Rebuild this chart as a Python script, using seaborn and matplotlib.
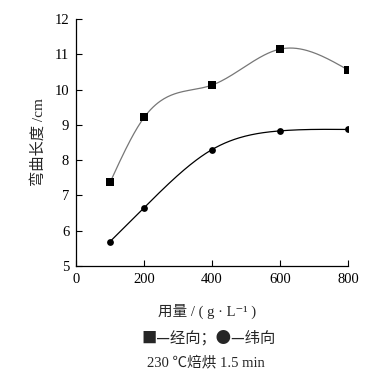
import numpy as np
import pandas as pd
import matplotlib
matplotlib.use('Agg')
import matplotlib.pyplot as plt
import seaborn as sns

# data
dosage = [100, 200, 400, 600, 800]
warp = [7.37, 9.21, 10.13, 11.15, 10.56]
weft = [5.69, 6.65, 8.30, 8.83, 8.87]

x_ticks = [0, 200, 400, 600, 800]
y_ticks = [5, 6, 7, 8, 9, 10, 11, 12]


def natural_spline(x, y, n=200):
    '''smooth curve through the points (natural cubic spline), for drawing only'''
    x = np.asarray(x, float)
    y = np.asarray(y, float)
    k = len(x)
    h = np.diff(x)
    A = np.zeros((k, k))
    b = np.zeros(k)
    A[0, 0] = A[-1, -1] = 1
    for i in range(1, k - 1):
        A[i, i - 1] = h[i - 1]
        A[i, i] = 2 * (h[i - 1] + h[i])
        A[i, i + 1] = h[i]
        b[i] = 6 * ((y[i + 1] - y[i]) / h[i] - (y[i] - y[i - 1]) / h[i - 1])
    m = np.linalg.solve(A, b)
    xs = np.linspace(x[0], x[-1], n)
    idx = np.clip(np.searchsorted(x, xs) - 1, 0, k - 2)
    t0 = xs - x[idx]
    t1 = x[idx + 1] - xs
    hi = h[idx]
    ys = (m[idx] * t1 ** 3 + m[idx + 1] * t0 ** 3) / (6 * hi) \
        + (y[idx] / hi - m[idx] * hi / 6) * t1 \
        + (y[idx + 1] / hi - m[idx + 1] * hi / 6) * t0
    return xs, ys


sns.set_style('ticks')
plt.rcParams['font.family'] = ['Liberation Serif', 'Noto Sans CJK SC', 'DejaVu Sans']
plt.rcParams['xtick.direction'] = 'in'
plt.rcParams['ytick.direction'] = 'in'

fig = plt.figure(figsize=(3.75, 3.76), dpi=100)
ax = fig.add_axes([0.203, 0.293, 0.725, 0.656])

xs, ys = natural_spline(dosage, warp)
sns.lineplot(x=xs, y=ys, ax=ax, color='#777777', lw=0.9)
xs, ys = natural_spline(dosage, weft)
sns.lineplot(x=xs, y=ys, ax=ax, color='black', lw=0.9)

sns.scatterplot(x=dosage, y=warp, ax=ax, marker='s', s=30, color='black',
                edgecolor='black', linewidth=0, zorder=3)
sns.scatterplot(x=dosage, y=weft, ax=ax, marker='o', s=24, color='black',
                edgecolor='black', linewidth=0, zorder=3)

ax.set_xlim(0, 800)
ax.set_ylim(5, 12)
ax.set_xticks(x_ticks)
ax.set_yticks(y_ticks)
ax.tick_params(labelsize=10.5, length=4, width=0.8, colors='black', pad=5)
for s in ['top', 'right']:
    ax.spines[s].set_visible(False)
for s in ['left', 'bottom']:
    ax.spines[s].set_linewidth(0.9)
    ax.spines[s].set_color('black')

ax.set_ylabel('弯曲长度 /cm', fontsize=11, labelpad=6)
ax.set_xlabel('')

fig.text(0.552, 0.172, '用量 / ( g · L⁻¹ )', ha='center', va='center',
         fontsize=10.5)
fig.text(0.555, 0.101, '■—经向；●—纬向', ha='center', va='center',
         fontsize=11, family=['Noto Sans CJK SC', 'DejaVu Sans'])
fig.text(0.55, 0.037, '230 ℃焙烘 1.5 min', ha='center', va='center',
         fontsize=10.5)

fig.savefig('out.png', dpi=100)
